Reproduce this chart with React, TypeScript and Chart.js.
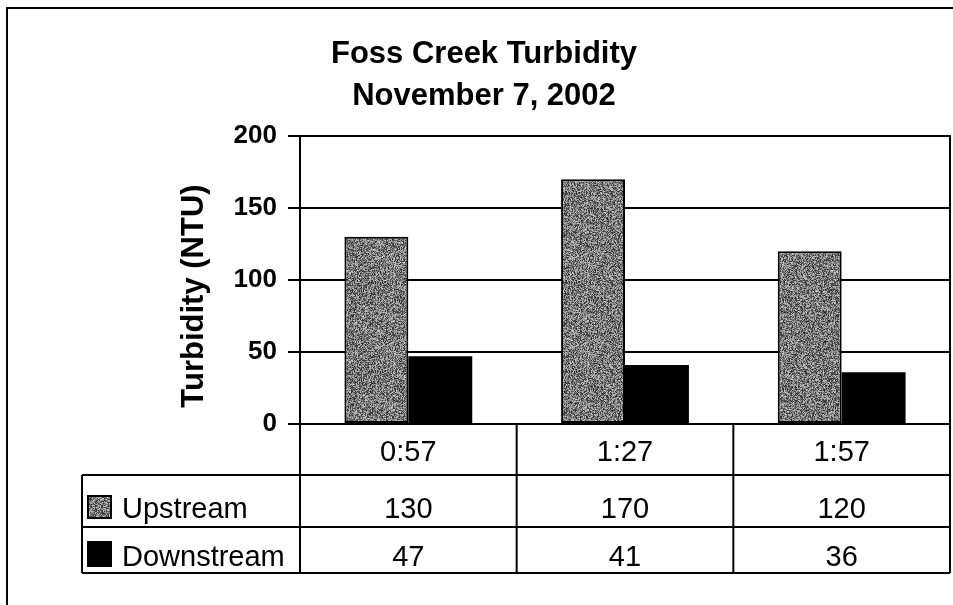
import React, { useEffect, useRef } from "react";
import { Chart, registerables } from "chart.js";

Chart.register(...registerables);

const categories = ["0:57", "1:27", "1:57"];
const upstream = [130, 170, 120];
const downstream = [47, 41, 36];
const seriesNames = ["Upstream", "Downstream"];
const yMin = 0;
const yMax = 200;
const yStep = 50;
const titleLines = ["Foss Creek Turbidity", "November 7, 2002"];
const yTitle = "Turbidity (NTU)";

const FONT = "'Liberation Sans', Arial, Helvetica, sans-serif";

function makeTexture(): CanvasPattern | string {
  const c = document.createElement("canvas");
  c.width = 97;
  c.height = 89;
  const ctx = c.getContext("2d");
  if (!ctx) return "#808080";
  const img = ctx.createImageData(c.width, c.height);
  for (let y = 0; y < c.height; y++) {
    for (let x = 0; x < c.width; x++) {
      let h = (x * 374761393 + y * 668265263) >>> 0;
      h = Math.imul(h ^ (h >>> 13), 1274126177) >>> 0;
      h = (h ^ (h >>> 16)) >>> 0;
      const r = (h & 255) / 255;
      const v = Math.round(40 + r * 160);
      const i = (y * c.width + x) * 4;
      img.data[i] = v;
      img.data[i + 1] = v;
      img.data[i + 2] = v;
      img.data[i + 3] = 255;
    }
  }
  ctx.putImageData(img, 0, 0);
  const p = ctx.createPattern(c, "repeat");
  return p || "#808080";
}

export default function App() {
  const ref = useRef<HTMLCanvasElement | null>(null);

  useEffect(() => {
    document.body.style.margin = "0";
    const canvas = ref.current;
    if (!canvas) return;
    const texture = makeTexture();

    const framePlugin = {
      id: "frame",
      beforeDraw(chart: any) {
        const ctx = chart.ctx;
        ctx.save();
        ctx.fillStyle = "#ffffff";
        ctx.fillRect(0, 0, chart.width, chart.height);
        ctx.strokeStyle = "#000";
        ctx.lineWidth = 2;
        ctx.beginPath();
        ctx.moveTo(7, chart.height);
        ctx.lineTo(7, 8);
        ctx.lineTo(chart.width, 8);
        ctx.stroke();
        ctx.restore();
      },
      afterDraw(chart: any) {
        const ctx = chart.ctx;
        const area = chart.chartArea;
        const xs = chart.scales.x;
        ctx.save();
        ctx.strokeStyle = "#000";
        ctx.lineWidth = 2;
        // plot right/top border
        ctx.beginPath();
        ctx.moveTo(area.left, area.top);
        ctx.lineTo(area.right, area.top);
        ctx.lineTo(area.right, area.bottom);
        ctx.stroke();

        // title
        ctx.fillStyle = "#000";
        ctx.textAlign = "center";
        ctx.textBaseline = "alphabetic";
        ctx.font = `bold 31px ${FONT}`;
        ctx.fillText(titleLines[0], 484, 63);
        ctx.fillText(titleLines[1], 484, 105);

        // y title
        ctx.save();
        ctx.translate(203, 296);
        ctx.rotate(-Math.PI / 2);
        ctx.font = `bold 31px ${FONT}`;
        ctx.textAlign = "center";
        ctx.fillText(yTitle, 0, 0);
        ctx.restore();

        // data table
        const n = categories.length;
        const colW = area.width / n;
        const tableLeft = 82;
        const r0 = area.bottom;
        const r1 = r0 + 51;
        const r2 = r1 + 52;
        const r3 = r2 + 46;
        ctx.lineWidth = 2;
        ctx.beginPath();
        [r1, r2, r3].forEach((yy) => {
          ctx.moveTo(tableLeft, yy);
          ctx.lineTo(area.right, yy);
        });
        ctx.moveTo(tableLeft, r1);
        ctx.lineTo(tableLeft, r3);
        ctx.moveTo(area.left, r0);
        ctx.lineTo(area.left, r3);
        for (let i = 0; i < n; i++) {
          const bx = xs.getPixelForValue(i) + colW / 2;
          ctx.moveTo(bx, r0);
          ctx.lineTo(bx, r3);
        }
        ctx.stroke();

        ctx.font = `29px ${FONT}`;
        ctx.textAlign = "center";
        ctx.textBaseline = "alphabetic";
        for (let i = 0; i < n; i++) {
          const cx = xs.getPixelForValue(i);
          ctx.fillText(categories[i], cx, r0 + 37);
          ctx.fillText(String(upstream[i]), cx, r1 + 43);
          ctx.fillText(String(downstream[i]), cx, r2 + 39);
        }
        // legend keys
        ctx.textAlign = "left";
        ctx.fillText(seriesNames[0], 122, r1 + 43);
        ctx.fillText(seriesNames[1], 122, r2 + 39);
        ctx.fillStyle = texture as any;
        ctx.fillRect(88, r1 + 21, 23, 22);
        ctx.strokeStyle = "#000";
        ctx.lineWidth = 2;
        ctx.strokeRect(88, r1 + 21, 23, 22);
        ctx.fillStyle = "#000";
        ctx.fillRect(87, r2 + 14, 25, 26);
        ctx.restore();
      },
    };

    const chart = new Chart(canvas, {
      type: "bar",
      data: {
        labels: categories,
        datasets: [
          {
            label: seriesNames[0],
            data: upstream,
            backgroundColor: texture as any,
            borderColor: "#000",
            borderWidth: 2,
            borderSkipped: false,
          },
          {
            label: seriesNames[1],
            data: downstream,
            backgroundColor: "#000",
            borderColor: "#000",
            borderWidth: 0,
          },
        ],
      },
      options: {
        responsive: false,
        animation: false,
        events: [],
        layout: { padding: { left: 0, right: 3, top: 136, bottom: 181 } },
        plugins: {
          legend: { display: false },
          title: { display: false },
          tooltip: { enabled: false },
        },
        datasets: {
          bar: { categoryPercentage: 0.59, barPercentage: 1 },
        },
        scales: {
          x: { display: false },
          y: {
            min: yMin,
            max: yMax,
            afterFit(scale: any) {
              scale.width = 300;
            },
            ticks: {
              stepSize: yStep,
              padding: 11,
              color: "#000",
              font: { family: FONT, size: 26, weight: "bold" },
            },
            grid: {
              color: "#000",
              lineWidth: 2,
              tickLength: 12,
              drawTicks: true,
            },
            border: { display: true, color: "#000", width: 2 },
          },
        },
      },
      plugins: [framePlugin],
    });

    return () => chart.destroy();
  }, []);

  return (
    <div style={{ position: "absolute", left: 0, top: 0, width: 953, height: 605 }}>
      <canvas ref={ref} width={953} height={605} style={{ display: "block", width: 953, height: 605 }} />
    </div>
  );
}
